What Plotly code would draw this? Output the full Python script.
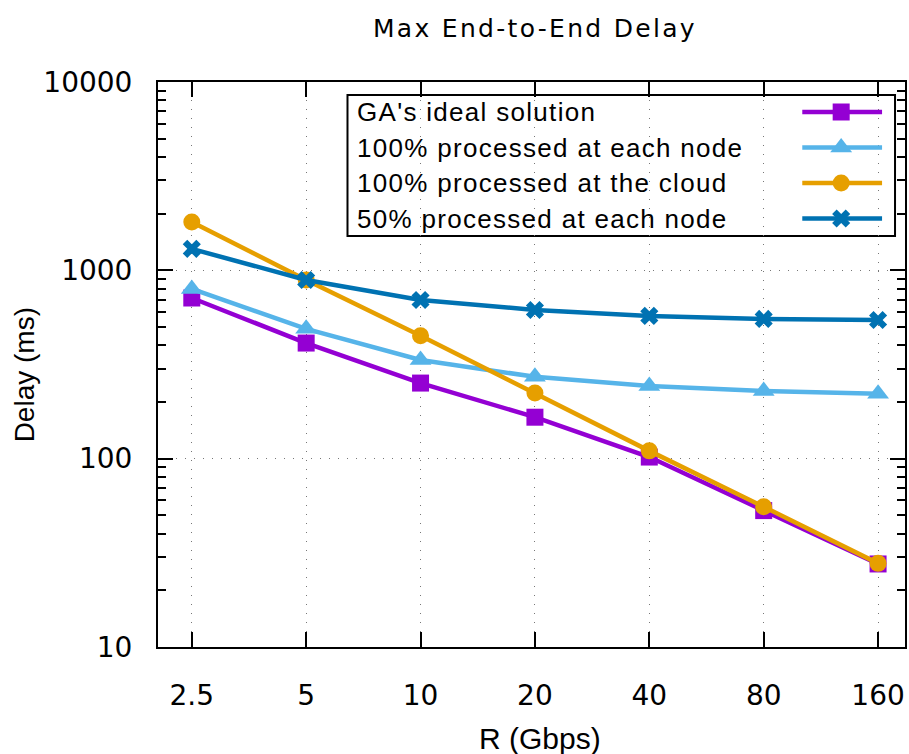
import plotly.graph_objects as go

# ---- data ----
R = [2.5, 5, 10, 20, 40, 80, 160]
x_tick_labels = ["2.5", "5", "10", "20", "40", "80", "160"]
ga_ideal = [713, 411, 252, 166, 102, 53, 27.6]
node_100 = [797, 489, 334, 272, 243, 229, 221]
cloud_100 = [1807, 889, 449, 223, 110, 55.5, 27.8]
node_50 = [1300, 889, 696, 616, 573, 552, 545]
y_tick_vals = [10, 100, 1000, 10000]
y_tick_labels = ["10", "100", "1000", "10000"]
series_names = ["GA's ideal solution", "100% processed at each node",
                "100% processed at the cloud", "50% processed at each node"]
series_values = [ga_ideal, node_100, cloud_100, node_50]

# ---- styles ----
colors = ["#9400d3", "#56b4e9", "#e69f00", "#0072b2"]
symbols = ["square", "triangle-up", "circle", "x"]
msizes = [17, 19, 17, 16]
TICK_FONT = dict(family="DejaVu Sans", size=28, color="black")
TEXT_FONT = "Liberation Sans"

W, H = 909, 754
L, Rm, T, B = 158, 2, 82, 107
pw, ph = W - L - Rm, H - T - B

def px_x(p):
    return (p - L) / pw

def px_y(p):
    return (H - B - p) / ph

def spaced(s, ls):
    return '<span style="letter-spacing:%spx">%s</span>' % (ls, s)

fig = go.Figure()

for name, vals, c, s, ms in zip(series_names, series_values, colors, symbols, msizes):
    fig.add_trace(go.Scatter(
        x=R, y=vals, name=name, mode="lines+markers",
        line=dict(color=c, width=4.5),
        marker=dict(symbol=s, size=ms, color=c, line=dict(width=0)),
        showlegend=False, cliponaxis=False,
    ))

# ---- manual gnuplot-style legend ----
leg_rows = [112, 147.5, 183, 218.5]
shapes = [dict(type="rect", xref="paper", yref="paper",
               x0=px_x(348), x1=px_x(897), y0=px_y(236), y1=px_y(95),
               line=dict(color="black", width=2), fillcolor="white", layer="between")]
annotations = []
for name, c, s, ms, ry in zip(series_names, colors, symbols, msizes, leg_rows):
    yy = px_y(ry)
    fig.add_trace(go.Scatter(
        x=[px_x(804), px_x(884)], y=[yy, yy],
        xaxis="x2", yaxis="y2", mode="lines",
        line=dict(color=c, width=4.5),
        showlegend=False, hoverinfo="skip",
    ))
    fig.add_trace(go.Scatter(
        x=[px_x(843)], y=[yy],
        xaxis="x2", yaxis="y2", mode="markers",
        marker=dict(symbol=s, size=ms, color=c, line=dict(width=0)),
        showlegend=False, hoverinfo="skip",
    ))
    annotations.append(dict(text=spaced(name, 1.3), xref="paper", yref="paper",
                            x=px_x(356), y=yy, xanchor="left", yanchor="middle",
                            showarrow=False,
                            font=dict(family=TEXT_FONT, size=26, color="black")))

# titles
annotations.append(dict(text=spaced("Max End-to-End Delay", 2.3), xref="paper", yref="paper",
                        x=px_x(536), y=px_y(29), xanchor="center", yanchor="middle",
                        showarrow=False, font=dict(family="DejaVu Sans", size=25, color="black")))
annotations.append(dict(text="R (Gbps)", xref="paper", yref="paper",
                        x=px_x(541), y=px_y(738), xanchor="center", yanchor="middle",
                        showarrow=False, font=dict(family=TEXT_FONT, size=30, color="black")))
annotations.append(dict(text="Delay (ms)", xref="paper", yref="paper",
                        x=px_x(24), y=px_y(375), xanchor="center", yanchor="middle",
                        textangle=-90, showarrow=False,
                        font=dict(family=TEXT_FONT, size=28, color="black")))

GRID = dict(showgrid=True, gridcolor="#777777", gridwidth=1, griddash="1px,8px")
fig.update_layout(
    width=W, height=H,
    margin=dict(l=L, r=Rm, t=T, b=B, pad=0),
    plot_bgcolor="white", paper_bgcolor="white",
    shapes=shapes, annotations=annotations,
    xaxis=dict(type="log", range=[0.309, 2.275], tickvals=R, ticktext=x_tick_labels,
               ticks="inside", ticklen=15, tickwidth=2, tickcolor="black",
               showline=True, linecolor="black", linewidth=2, mirror="ticks",
               tickfont=TICK_FONT, ticklabelstandoff=22, zeroline=False, **GRID),
    yaxis=dict(type="log", range=[1, 4], tickvals=y_tick_vals, ticktext=y_tick_labels,
               ticks="inside", ticklen=15, tickwidth=2, tickcolor="black",
               showline=True, linecolor="black", linewidth=2, mirror="ticks",
               tickfont=TICK_FONT, ticklabelstandoff=18, zeroline=False,
               minor=dict(ticks="inside", ticklen=8, tickwidth=2, tickcolor="black",
                          dtick="D1", showgrid=False),
               **GRID),
    xaxis2=dict(overlaying="x", range=[0, 1], visible=False, fixedrange=True),
    yaxis2=dict(overlaying="y", range=[0, 1], visible=False, fixedrange=True),
)

fig.write_html("out.html")
